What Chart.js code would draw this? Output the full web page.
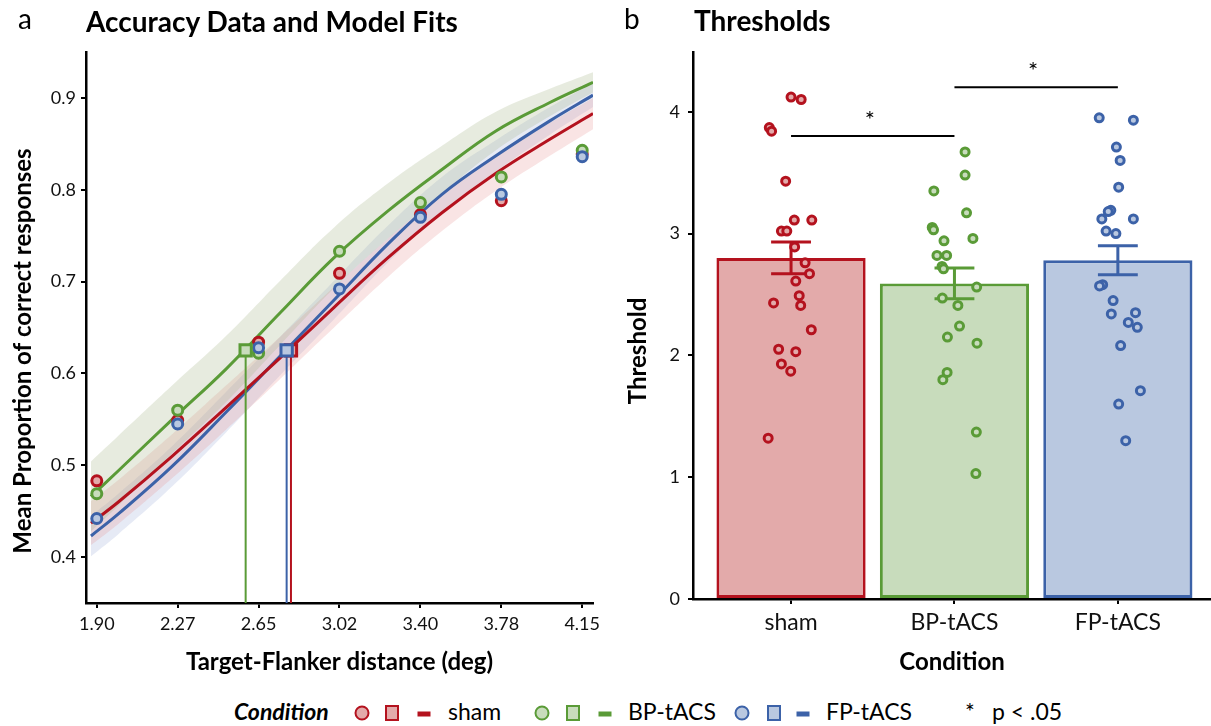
<!DOCTYPE html>
<html>
<head>
<meta charset="utf-8">
<script src="https://cdn.jsdelivr.net/npm/chart.js@4.4.1/dist/chart.umd.min.js"></script>
<style>
  body { margin: 0; background: #fff; font-family: Lato, sans-serif; color: #000; }
  #page { position: relative; width: 1211px; height: 726px; overflow: hidden; }
  .abs { position: absolute; white-space: nowrap; line-height: 1.2; }
  .letter { font-size: 28px; }
  .ptitle { font-size: 28px; font-weight: bold; }
  .lg { font-size: 23px; }
  .mk { position: absolute; box-sizing: border-box; transform: translate(-50%, -50%); }
  .circ { width: 15px; height: 15px; border-radius: 50%; border: 2.5px solid; }
  .sq { width: 14px; height: 16px; border: 2.5px solid; }
  .dash { width: 13px; height: 5px; }
</style>
</head>
<body>
<div id="page">
  <canvas id="fitChart" width="600" height="680" style="position:absolute;left:0;top:0"></canvas>
  <canvas id="thrChart" width="611" height="680" style="position:absolute;left:600px;top:0"></canvas>

  <div class="abs letter" style="left:18px;top:2px">a</div>
  <div class="abs ptitle" style="left:86px;top:5px">Accuracy Data and Model Fits</div>
  <div class="abs letter" style="left:624px;top:2px">b</div>
  <div class="abs ptitle" style="left:694px;top:4px">Thresholds</div>

  <div class="abs lg" style="left:234px;top:698px;font-weight:bold;font-style:italic">Condition</div>
  <div class="mk circ" style="left:362px;top:713px;border-color:#b4121e;background:#e3aaaa"></div>
  <div class="mk sq" style="left:392px;top:713px;border-color:#b4121e;background:#e3aaaa"></div>
  <div class="mk dash" style="left:424px;top:714px;background:#b4121e"></div>
  <div class="abs lg" style="left:448px;top:698px">sham</div>
  <div class="mk circ" style="left:542px;top:713px;border-color:#5a9b37;background:#c8dcbc"></div>
  <div class="mk sq" style="left:573px;top:713px;border-color:#5a9b37;background:#c8dcbc"></div>
  <div class="mk dash" style="left:605px;top:714px;background:#5a9b37"></div>
  <div class="abs lg" style="left:628px;top:698px">BP-tACS</div>
  <div class="mk circ" style="left:742px;top:713px;border-color:#3c62a8;background:#b9c8e0"></div>
  <div class="mk sq" style="left:774px;top:713px;border-color:#3c62a8;background:#b9c8e0"></div>
  <div class="mk dash" style="left:803px;top:714px;background:#3c62a8"></div>
  <div class="abs lg" style="left:826px;top:698px">FP-tACS</div>
  <div class="abs lg" style="left:965px;top:698px">*</div>
  <div class="abs lg" style="left:992px;top:698px">p &lt; .05</div>
</div>

<script>
// ---- panel a: accuracy data ----
const distances = [1.90, 2.275, 2.65, 3.025, 3.40, 3.775, 4.15];
const distanceLabels = ['1.90', '2.27', '2.65', '3.02', '3.40', '3.78', '4.15'];
const accTicks = [0.4, 0.5, 0.6, 0.7, 0.8, 0.9];
const accSham = [0.483, 0.549, 0.634, 0.709, 0.773, 0.788, 0.839];
const accBP = [0.469, 0.560, 0.622, 0.733, 0.786, 0.814, 0.843];
const accFP = [0.442, 0.545, 0.628, 0.692, 0.770, 0.795, 0.836];

// model fits, with half width of the shaded band
const fitX = [1.873, 2.0, 2.25, 2.5, 2.75, 3.0, 3.25, 3.5, 3.75, 4.0, 4.2];
const fitSham = [0.437, 0.460, 0.510, 0.563, 0.617, 0.672, 0.726, 0.775, 0.818, 0.855, 0.883];
const fitBP = [0.466, 0.494, 0.550, 0.605, 0.666, 0.726, 0.777, 0.822, 0.864, 0.895, 0.917];
const fitFP = [0.423, 0.447, 0.499, 0.558, 0.619, 0.680, 0.741, 0.795, 0.837, 0.875, 0.903];
const bandSham = [0.024, 0.024, 0.024, 0.024, 0.023, 0.022, 0.021, 0.020, 0.019, 0.018, 0.017];
const bandBP = [0.038, 0.038, 0.037, 0.036, 0.035, 0.033, 0.030, 0.026, 0.021, 0.015, 0.011];
const bandFP = [0.022, 0.022, 0.022, 0.022, 0.021, 0.021, 0.020, 0.019, 0.017, 0.015, 0.013];
const criterion = 0.625;

// ---- panel b: thresholds ----
const conditions = ['sham', 'BP-tACS', 'FP-tACS'];
const thrTicks = [0, 1, 2, 3, 4];
const thrMean = [2.80, 2.59, 2.78];
const thrSem = [0.13, 0.126, 0.119];
const thrSham = [4.12, 4.10, 3.87, 3.84, 3.43, 3.11, 3.11, 3.02, 3.02, 2.89, 2.76, 2.67, 2.61, 2.43, 2.49, 2.41, 2.21, 2.05, 2.03, 1.93, 1.87, 1.32];
const jitSham = [0.0, 0.062, -0.133, -0.119, -0.033, 0.02, 0.127, -0.059, -0.026, 0.022, 0.086, 0.113, 0.029, -0.107, 0.05, 0.059, 0.124, -0.076, 0.029, -0.059, -0.002, -0.14];
const thrBP = [3.67, 3.48, 3.35, 3.17, 3.05, 3.03, 2.94, 2.96, 2.82, 2.82, 2.73, 2.71, 2.56, 2.47, 2.41, 2.24, 2.15, 2.10, 1.86, 1.80, 1.37, 1.03];
const jitBP = [0.065, 0.065, -0.126, 0.074, -0.136, -0.128, -0.064, 0.113, -0.107, -0.048, -0.076, -0.067, 0.136, -0.074, 0.021, 0.031, -0.043, 0.138, -0.045, -0.071, 0.134, 0.131];
const thrFP = [3.95, 3.93, 3.71, 3.60, 3.38, 3.19, 3.18, 3.12, 3.12, 3.02, 3.00, 2.58, 2.57, 2.45, 2.34, 2.35, 2.27, 2.23, 2.08, 1.71, 1.60, 1.30];
const jitFP = [-0.114, 0.095, -0.009, 0.014, 0.005, -0.043, -0.059, -0.098, 0.095, -0.072, -0.012, -0.093, -0.112, -0.029, -0.04, 0.108, 0.064, 0.119, 0.017, 0.138, 0.005, 0.048];
const sigFrom = [0, 1];
const sigTo = [1, 2];
const sigY = [3.80, 4.20];

const dark = ['#b4121e', '#5a9b37', '#3c62a8'];
const light = ['#e3aaaa', '#c8dcbc', '#b9c8e0'];
const bandFill = ['rgba(226,130,130,0.22)', 'rgba(170,182,140,0.28)', 'rgba(140,160,210,0.22)'];

const FONT = 'Lato';

const sideTitle = {
    id: 'sideTitle',
    afterDraw(chart, args, opts) {
        const ctx = chart.ctx;
        ctx.save();
        ctx.translate(opts.x, opts.y);
        ctx.rotate(-Math.PI / 2);
        ctx.font = 'bold 24px ' + FONT;
        ctx.fillStyle = '#000';
        ctx.textAlign = 'center';
        ctx.textBaseline = 'alphabetic';
        ctx.fillText(opts.text, 0, 0);
        ctx.restore();
    }
};

function pts(xs, ys) {
    return xs.map((x, i) => ({ x: x, y: ys[i] }));
}

function axisCommon(tickVals, labelFn, fontSize) {
    return {
        offset: false,
        afterBuildTicks: s => { s.ticks = tickVals.map(v => ({ value: v })); },
        grid: { display: true, offset: false, drawOnChartArea: false, drawTicks: true, tickLength: 5, color: '#000', lineWidth: 2 },
        border: { display: true, color: '#000', width: 2.5 },
        ticks: { callback: labelFn, font: { family: FONT, size: fontSize }, color: '#111', padding: 5, maxRotation: 0, autoSkip: false }
    };
}

// bands first (drawn lowest), then curves, threshold lines, circles, squares
const fitSets = [];
const fits = [fitSham, fitBP, fitFP];
const bands = [bandSham, bandBP, bandFP];
const accs = [accSham, accBP, accFP];
[1, 0, 2].forEach((c, k) => {
    fitSets.push({
        data: pts(fitX, fits[c].map((v, i) => v - bands[c][i])),
        showLine: true, borderColor: 'transparent', pointRadius: 0, tension: 0.4,
        fill: false, order: 30 + k * 2
    });
    fitSets.push({
        data: pts(fitX, fits[c].map((v, i) => v + bands[c][i])),
        showLine: true, borderColor: 'transparent', pointRadius: 0, tension: 0.4,
        fill: '-1', backgroundColor: bandFill[c], order: 29 + k * 2
    });
});
[0, 2, 1].forEach((c, k) => {
    fitSets.push({
        data: pts(fitX, fits[c]), showLine: true, borderColor: dark[c], borderWidth: 3,
        pointRadius: 0, tension: 0.4, fill: false, order: 20 + k
    });
});
[0, 2, 1].forEach((c, k) => {
    fitSets.push({
        data: [{ x: thrMean[c], y: 0.35 }, { x: thrMean[c], y: criterion }],
        showLine: true, borderColor: dark[c], borderWidth: 2, pointRadius: 0, fill: false, order: 15 + k
    });
});
[2, 1, 0].forEach((c, k) => {
    fitSets.push({
        data: pts(distances, accs[c]), showLine: false, pointRadius: 5, borderWidth: 3,
        borderColor: dark[c], backgroundColor: light[c], order: 5 + k
    });
});
[2, 1, 0].forEach((c, k) => {
    fitSets.push({
        data: [{ x: thrMean[c], y: criterion }], showLine: false, pointStyle: 'rect', pointRadius: 8,
        borderWidth: 3, borderColor: dark[c], backgroundColor: light[c], order: k
    });
});

const xA = axisCommon(distances, (v, i) => distanceLabels[i], 18);
xA.type = 'linear'; xA.min = 1.85; xA.max = 4.20;
xA.afterFit = s => { s.height = 77; s.paddingLeft = 0; s.paddingRight = 0; };
xA.title = { display: true, text: 'Target-Flanker distance (deg)', font: { family: FONT, size: 24, weight: 'bold' }, color: '#000', padding: { bottom: 3 } };
const yA = axisCommon(accTicks, v => v.toFixed(1), 18);
yA.type = 'linear'; yA.min = 0.35; yA.max = 0.95;
yA.afterFit = s => { s.width = 86; };

new Chart(document.getElementById('fitChart'), {
    type: 'scatter',
    data: { datasets: fitSets },
    options: {
        responsive: false, animation: false, events: [],
        layout: { autoPadding: false, padding: { left: 0, right: 7, top: 52, bottom: 0 } },
        plugins: {
            legend: { display: false }, tooltip: { enabled: false },
            sideTitle: { text: 'Mean Proportion of correct responses', x: 31, y: 351 }
        },
        scales: { x: xA, y: yA }
    },
    plugins: [sideTitle]
});

// ---- panel b chart ----
const errorBars = {
    id: 'errorBars',
    afterDatasetDraw(chart, args) {
        if (args.index !== 0) return;
        const { ctx, scales: { x, y } } = chart;
        const capHalf = 0.122;
        ctx.save();
        ctx.lineWidth = 3;
        thrMean.forEach((m, i) => {
            const cx = x.getPixelForValue(i);
            const hw = x.getPixelForValue(i + capHalf) - cx;
            const top = y.getPixelForValue(m + thrSem[i]);
            const bot = y.getPixelForValue(m - thrSem[i]);
            ctx.strokeStyle = dark[i];
            ctx.beginPath();
            ctx.moveTo(cx, top); ctx.lineTo(cx, bot);
            ctx.moveTo(cx - hw, top); ctx.lineTo(cx + hw, top);
            ctx.moveTo(cx - hw, bot); ctx.lineTo(cx + hw, bot);
            ctx.stroke();
        });
        ctx.restore();
    }
};

const sigBars = {
    id: 'sigBars',
    afterDatasetsDraw(chart) {
        const { ctx, scales: { x, y } } = chart;
        ctx.save();
        ctx.strokeStyle = '#000';
        ctx.fillStyle = '#000';
        ctx.lineWidth = 2;
        ctx.font = '24px ' + FONT;
        ctx.textAlign = 'center';
        ctx.textBaseline = 'middle';
        sigY.forEach((v, i) => {
            const x0 = x.getPixelForValue(sigFrom[i]);
            const x1 = x.getPixelForValue(sigTo[i]);
            const py = y.getPixelForValue(v);
            ctx.beginPath();
            ctx.moveTo(x0, py); ctx.lineTo(x1, py);
            ctx.stroke();
            ctx.fillText('*', (x0 + x1) / 2 - 3, py - 16);
        });
        ctx.restore();
    }
};

const thrSets = [{
    type: 'bar',
    data: thrMean.map((m, i) => ({ x: i, y: m })),
    backgroundColor: light, borderColor: dark, borderWidth: 3, borderSkipped: false,
    barPercentage: 0.913, categoryPercentage: 1, order: 5
}];
const thrVals = [thrSham, thrBP, thrFP];
const jits = [jitSham, jitBP, jitFP];
thrVals.forEach((vals, c) => {
    thrSets.push({
        type: 'scatter',
        data: vals.map((v, i) => ({ x: c + jits[c][i], y: v })),
        pointRadius: 4, borderWidth: 3, borderColor: dark[c], backgroundColor: light[c], order: 2 - c
    });
});

const xB = axisCommon([0, 1, 2], (v, i) => conditions[i], 23);
xB.type = 'linear'; xB.min = -0.6; xB.max = 2.57;
xB.afterFit = s => { s.height = 81; };
xB.title = { display: true, text: 'Condition', font: { family: FONT, size: 24, weight: 'bold' }, color: '#000', padding: { bottom: 3 } };
const yB = axisCommon(thrTicks, v => String(v), 18);
yB.type = 'linear'; yB.min = 0; yB.max = 4.49;
yB.afterFit = s => { s.width = 93; };
yB.ticks.padding = 8;

new Chart(document.getElementById('thrChart'), {
    type: 'bar',
    data: { datasets: thrSets },
    options: {
        responsive: false, animation: false, events: [],
        layout: { autoPadding: false, padding: { left: 0, right: 0, top: 52, bottom: 0 } },
        plugins: {
            legend: { display: false }, tooltip: { enabled: false },
            sideTitle: { text: 'Threshold', x: 46, y: 351 }
        },
        scales: { x: xB, y: yB }
    },
    plugins: [sideTitle, errorBars, sigBars]
});
</script>
</body>
</html>
